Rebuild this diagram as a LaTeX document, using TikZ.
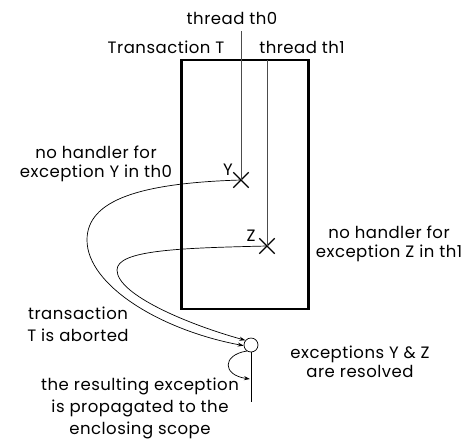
\documentclass[tikz,border=0pt]{standalone}
\usepackage{fontspec}
\setmainfont[LetterSpace=3]{Poppins}
\usetikzlibrary{shapes.misc,arrows.meta}
\begin{document}
\begin{tikzpicture}[x=1pt,y=-1pt,
  lbl/.style={font=\fontsize{16.5}{18.5}\selectfont, align=center, inner sep=0pt},
  lbw/.style={lbl, font=\fontsize{16.5}{22}\selectfont},
  xmark/.style={cross out, draw, line width=1.3pt, minimum size=14pt, inner sep=0pt},
  thr/.style={draw=black!70, line width=0.8pt},
  conn/.style={draw, line width=0.7pt, -{Stealth[length=6pt,width=4pt]}},
  box/.style={draw, line width=2.5pt}]
\useasboundingbox (0,0) rectangle (465,442);
% transaction box
\node[box, minimum width=127pt, minimum height=249pt, inner sep=0pt] (T) at (245,184.5) {};
% labels
\node[lbl] (lth0) at (232,18) {thread th0};
\node[lbl] (lT) at (166,47) {Transaction T};
\node[lbl] (lth1) at (302,47) {thread th1};
\node[lbl] (lY) at (96,164) {no handler for\\exception Y in th0};
\node[lbl] (lZ) at (389,244) {no handler for\\exception Z in th1};
\node[lbw] (lab) at (78,324) {transaction\\T is aborted};
\node[lbl] (lres) at (360,362) {exceptions Y \& Z\\are resolved};
\node[lbw] (lprop) at (140,408) {the resulting exception\\is propagated to the\\enclosing scope};
% crosses
\node[xmark] (xY) at (241,180) {};
\node[xmark] (xZ) at (267,246) {};
\node[lbl] (tY) at (228,170) {Y};
\node[lbl] (tZ) at (251,236) {Z};
% threads
\coordinate (s0) at (241,31);
\coordinate (s1) at (267,60);
\draw[thr] (s0) -- (xY.center);
\draw[thr] (s1) -- (xZ.center);
% resolution circle
\node[circle, draw, line width=0.7pt, minimum size=14pt, inner sep=0pt] (res) at (251,345) {};
\coordinate (tail) at (251,402);
\coordinate (prop) at (250,379);
\draw[line width=0.7pt] (res.south) -- (tail);
% connectors
\draw[conn] (xY.center) .. controls (140,183) and (87,200) .. (87,240)
   .. controls (87,285) and (160,330) .. (res.185);
\draw[conn] (xZ.center) .. controls (180,248) and (117,250) .. (117,270)
   .. controls (117,295) and (190,325) .. (res.140);
\draw[conn] (res.235) .. controls (222,355) and (222,375) .. (prop);
\end{tikzpicture}
\end{document}
